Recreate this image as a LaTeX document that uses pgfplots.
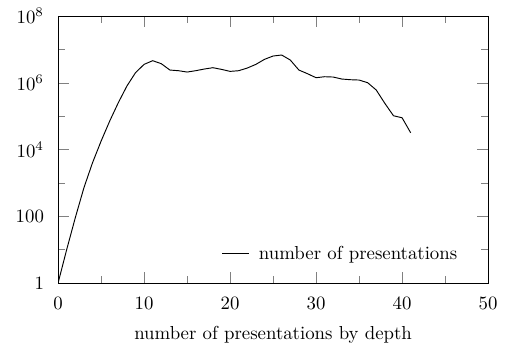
\documentclass[border=0pt]{standalone}
\usepackage{pgfplots}
\pgfplotsset{compat=1.18}
\begin{document}
\begin{tikzpicture}
\begin{axis}[
  scale only axis,
  width=228.7pt, height=142pt,
  ymode=log,
  xmin=0, xmax=50, ymin=1, ymax=1e8,
  xtick={0,10,20,30,40,50},
  minor xtick={5,15,25,35,45},
  ytick={1,100,1e4,1e6,1e8},
  yticklabels={$1$,$100$,$10^4$,$10^6$,$10^8$},
  minor ytick={10,1000,1e5,1e7},
  tick align=inside,
  major tick length=5.7pt,
  minor tick length=3.6pt,
  xticklabel style={yshift=-4pt},
  yticklabel style={xshift=-4pt},
  xlabel={number of presentations by depth},
  xlabel style={yshift=-2pt},
  legend style={draw=none, fill=none, at={(0.951,0.049)}, anchor=south east},
  legend image code/.code={\draw[#1] (0cm,0cm) -- (0.5cm,0cm); \path (0.61cm,0cm);},
]
\addplot[black, line width=0.5pt, mark=none] coordinates {
(0,1) (1,10) (2,90) (3,708) (4,3981) (5,17783) (6,70795) (7,251189)
(8,794328) (9,1995262) (10,3548134) (11,4570882) (12,3715352) (13,2398833)
(14,2290868) (15,2089296) (16,2290868) (17,2570396) (18,2818383) (19,2511886)
(20,2187762) (21,2290868) (22,2754229) (23,3548134) (24,5011872) (25,6309573)
(26,6760830) (27,4786301) (28,2398833) (29,1862087) (30,1412538) (31,1513561)
(32,1479108) (33,1288250) (34,1230269) (35,1202264) (36,1000000) (37,602560)
(38,239883) (39,102329) (40,89125) (41,31623)
};
\addlegendentry{number of presentations}
\end{axis}
\path[use as bounding box] ([xshift=-30.9pt,yshift=-33.5pt]current axis.south west) rectangle ([xshift=9pt,yshift=8.5pt]current axis.north east);
\end{tikzpicture}
\end{document}
